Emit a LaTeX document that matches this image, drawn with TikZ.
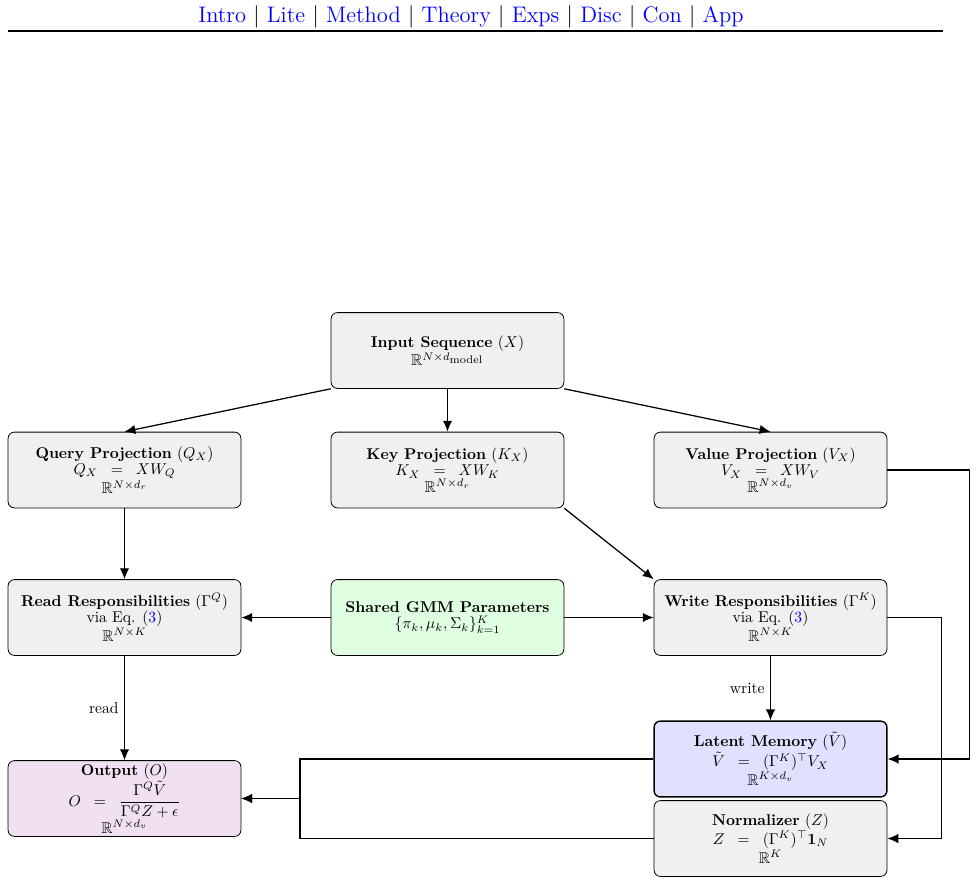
\documentclass[tikz,border=0pt]{standalone}
\usepackage{amsmath,amssymb}
\usetikzlibrary{arrows.meta}
\definecolor{boxgray}{RGB}{240,240,240}
\definecolor{boxgreen}{RGB}{224,255,224}
\definecolor{boxblue}{RGB}{224,224,255}
\definecolor{boxpurple}{RGB}{240,224,240}
\definecolor{linkblue}{RGB}{0,0,255}
\begin{document}
\begin{tikzpicture}[x=0.64pt,y=-0.64pt,
  box/.style={draw, rounded corners=4pt, fill=boxgray, minimum width=149pt, minimum height=48.5pt,
    align=center, inner sep=2pt, line width=0.5pt, font=\fontsize{10}{10.5}\selectfont},
  arr/.style={-{Latex[length=7pt,width=6pt]}, line width=0.8pt},
  lbl/.style={font=\fontsize{10}{12}\selectfont}]
\useasboundingbox (0,0) rectangle (977,884);

\node (hdr) at (471,17) {\Large \textcolor{linkblue}{Intro} $|$ \textcolor{linkblue}{Lite} $|$ \textcolor{linkblue}{Method} $|$ \textcolor{linkblue}{Theory} $|$ \textcolor{linkblue}{Exps} $|$ \textcolor{linkblue}{Disc} $|$ \textcolor{linkblue}{Con} $|$ \textcolor{linkblue}{App}};
\draw[line width=0.7pt] (8,31) -- (943,31);

\node[box] (input) at (447.5,350.5) {\textbf{Input Sequence} ($X$)\\ $\mathbb{R}^{N\times d_{\scriptstyle\mathrm{model}}}$};
\node[box] (query) at (124.5,470) {\textbf{Query Projection} ($Q_X$)\\ $Q_X \;\;=\;\; XW_Q$\\ $\mathbb{R}^{N\times d_r}$};
\node[box] (key) at (447.5,470) {\textbf{Key Projection} ($K_X$)\\ $K_X \;\;=\;\; XW_K$\\ $\mathbb{R}^{N\times d_r}$};
\node[box] (value) at (770.5,470) {\textbf{Value Projection} ($V_X$)\\ $V_X \;\;=\;\; XW_V$\\ $\mathbb{R}^{N\times d_v}$};
\node[box] (read) at (124.5,617.5) {\textbf{Read Responsibilities} ($\Gamma^Q$)\\ via Eq. (\textcolor{linkblue}{3})\\ $\mathbb{R}^{N\times K}$};
\node[box, fill=boxgreen] (gmm) at (447.5,617.5) {\textbf{Shared GMM Parameters}\\ $\{\pi_k,\mu_k,\Sigma_k\}_{k=1}^{K}$};
\node[box] (write) at (770.5,617.5) {\textbf{Write Responsibilities} ($\Gamma^K$)\\ via Eq. (\textcolor{linkblue}{3})\\ $\mathbb{R}^{N\times K}$};
\node[box, fill=boxpurple] (output) at (124.5,798.5) {\textbf{Output} ($O$)\\ $O \;\;=\;\; \dfrac{\Gamma^Q\tilde V}{\Gamma^Q Z+\epsilon}$\\ $\mathbb{R}^{N\times d_v}$};
\node[box, fill=boxblue, line width=0.9pt] (latent) at (770.5,759) {\textbf{Latent Memory} ($\tilde V$)\\ $\tilde V \;\;=\;\; (\Gamma^K)^{\top} V_X$\\ $\mathbb{R}^{K\times d_v}$};
\node[box] (norm) at (770.5,838.5) {\textbf{Normalizer} ($Z$)\\ $Z \;\;=\;\; (\Gamma^K)^{\top}\mathbf{1}_N$\\ $\mathbb{R}^{K}$};

\draw[arr] (input.south west) -- (query.north);
\draw[arr] (input) -- (key);
\draw[arr] (input.south east) -- (value.north);
\draw[arr] (key.south east) -- (write.north west);
\draw[arr] (query) -- (read);
\draw[arr] (gmm) -- (read);
\draw[arr] (gmm) -- (write);
\draw[arr] (read) -- node[lbl, left, pos=0.5] {read} (output);
\draw[arr] (write) -- node[lbl, left, pos=0.5] {write} (latent);
\draw[arr] (value.east) -- ++(82,0) |- (latent.east);
\draw[arr] (write.east) -- ++(54,0) |- (norm.east);
\coordinate (merge) at (300,798.5);
\draw[arr] (latent.west) -| (merge) -- (output.east);
\draw[arr] (norm.west) -| (merge) -- (output.east);
\end{tikzpicture}
\end{document}
